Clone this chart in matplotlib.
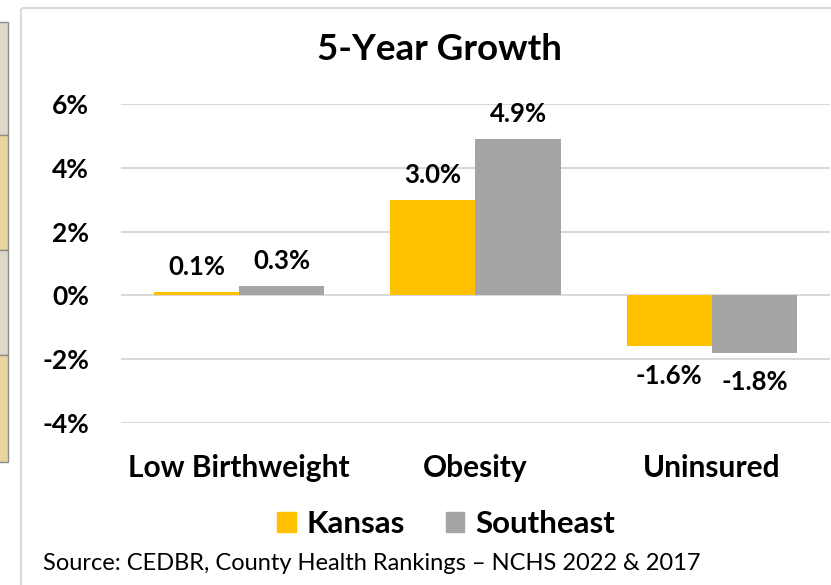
import matplotlib.pyplot as plt
from matplotlib.patches import Rectangle, FancyBboxPatch, Patch

plt.rcParams['font.family'] = ['Lato', 'DejaVu Sans']

"""Chart data"""
categories = ['Low Birthweight', 'Obesity', 'Uninsured']
kansas = [0.1, 3.0, -1.6]  # % growth
southeast = [0.3, 4.9, -1.8]  # %
series_names = ['Kansas', 'Southeast']
y_ticks = [-4, -2, 0, 2, 4, 6]
title = '5-Year Growth'
source = 'Source: CEDBR, County Health Rankings \u2013 NCHS 2022 & 2017'

W, H = 831, 585
kansas_color = '#FFC000'
se_color = '#A5A5A5'


def fx(px):
    return px / W


def fy(py):
    # pixel from top -> figure fraction
    return 1 - py / H


fig = plt.figure(figsize=(W / 100, H / 100), dpi=100)

# bits of the neighbouring table on the left
cells = [(22, 135, '#DDD8C8'), (135, 250, '#EAD59E'),
         (250, 355, '#DDD8C8'), (355, 462, '#EAD59E')]
for top, bot, col in cells:
    fig.patches.append(Rectangle((fx(-5), fy(bot)), fx(13), fy(top) - fy(bot),
                                 transform=fig.transFigure, facecolor=col,
                                 edgecolor='#8C8C8C', linewidth=1, zorder=-2))

# chart frame
fig.patches.append(FancyBboxPatch((fx(21), fy(620)), fx(840), fy(8) - fy(620),
                                  boxstyle='round,pad=0,rounding_size=0.004',
                                  transform=fig.transFigure, facecolor='white',
                                  edgecolor='#D9D9D9', linewidth=1.5, zorder=-1))

ax = fig.add_axes([fx(121), fy(423), fx(830) - fx(121), fy(104) - fy(423)])
ax.set_facecolor('none')

x = range(len(categories))
width = 0.36
xk = [i - width / 2 for i in x]
xs = [i + width / 2 for i in x]
ax.bar(xk, kansas, width, color=kansas_color, label=series_names[0], zorder=2)
ax.bar(xs, southeast, width, color=se_color, label=series_names[1], zorder=2)

for xpos, vals in ((xk, kansas), (xs, southeast)):
    for xi, v in zip(xpos, vals):
        off = 18 if v >= 0 else -21
        ax.annotate(f'{v:.1f}%', (xi, v), xytext=(0, off),
                    textcoords='offset points', ha='center', va='center',
                    fontsize=18.5, fontweight='bold', color='#000000')

ax.set_xlim(-0.5, 2.5)
ax.set_ylim(-4, 6)
ax.set_yticks(y_ticks)
ax.set_yticklabels([f'{t}%' for t in y_ticks])
ax.set_xticks(list(x))
ax.set_xticklabels(categories)
ax.yaxis.grid(True, color='#D9D9D9', linewidth=1.5, zorder=0)
ax.set_axisbelow(True)
for s in ax.spines.values():
    s.set_visible(False)
ax.tick_params(axis='both', length=0)
ax.tick_params(axis='y', pad=23, labelsize=19)
ax.tick_params(axis='x', pad=22, labelsize=21.5)
for lab in ax.get_xticklabels() + ax.get_yticklabels():
    lab.set_fontweight('bold')

fig.text(fx(439), fy(50), title, ha='center', va='center',
         fontsize=26.5, fontweight='bold')

handles = [Patch(color=kansas_color), Patch(color=se_color)]
fig.legend(handles, series_names, loc='center', bbox_to_anchor=(fx(446), fy(524)),
           frameon=False, ncol=2, prop={'size': 22.5, 'weight': 'bold'},
           handlelength=0.6, handleheight=0.6, handletextpad=0.35,
           columnspacing=1.3)

fig.text(fx(43), fy(563), source, ha='left', va='center', fontsize=17)

fig.savefig('out.png', dpi=100)
